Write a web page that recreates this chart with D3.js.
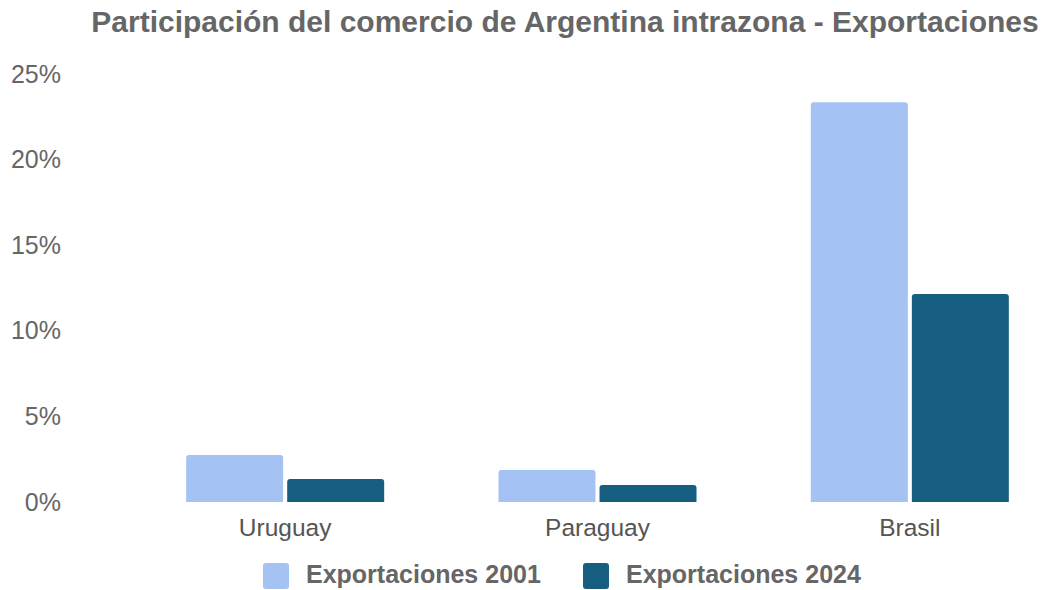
<!DOCTYPE html>
<html lang="es">
<head>
<meta charset="UTF-8">
<script src="https://cdn.jsdelivr.net/npm/d3@7"></script>
<style>
  body { margin: 0; background: #fff; }
  svg { font-family: "Liberation Sans", Arial, sans-serif; }
</style>
</head>
<body>
<div id="chart"></div>
<script>
const categories = ["Uruguay", "Paraguay", "Brasil"];
const series = ["Exportaciones 2001", "Exportaciones 2024"];
const exp2001 = [2.75, 1.87, 23.35];
const exp2024 = [1.35, 1.0, 12.15];
const yTicks = [0, 5, 10, 15, 20, 25];
const colors = ["#a4c2f4", "#165f83"];

const width = 1043, height = 590;
const svg = d3.select("#chart").append("svg")
  .attr("width", width).attr("height", height);

const x0 = d3.scaleBand().domain(categories).range([129, 1066])
  .paddingInner(0.366).paddingOuter(0.183);
const x1 = d3.scaleBand().domain(series).range([0, x0.bandwidth()]).paddingInner(0.04);
const y = d3.scaleLinear().domain([0, 25]).range([502, 74]);

// title
svg.append("text")
  .attr("x", 565).attr("y", 32)
  .attr("text-anchor", "middle")
  .attr("font-size", 30).attr("font-weight", "bold")
  .attr("fill", "#666")
  .text("Participación del comercio de Argentina intrazona - Exportaciones");

// y axis
const yAxis = svg.append("g")
  .attr("transform", "translate(61,0)")
  .call(d3.axisLeft(y).tickValues(yTicks).tickSize(0).tickPadding(0).tickFormat(d => d + "%"));
yAxis.select(".domain").remove();
yAxis.selectAll("text").attr("font-size", 25).attr("fill", "#666")
  .attr("font-family", "Liberation Sans, Arial, sans-serif");

// x axis labels
const xAxis = svg.append("g")
  .attr("transform", "translate(0,502)")
  .call(d3.axisBottom(x0).tickSize(0).tickPadding(0));
xAxis.select(".domain").remove();
xAxis.selectAll("text").attr("dy", null).attr("y", 34)
  .attr("font-size", 24.5).attr("fill", "#555")
  .attr("font-family", "Liberation Sans, Arial, sans-serif");

// bars with rounded tops
function barPath(x, yTop, w, yBase, r) {
  r = Math.min(r, (yBase - yTop), w / 2);
  return `M${x},${yBase}V${yTop + r}Q${x},${yTop} ${x + r},${yTop}H${x + w - r}Q${x + w},${yTop} ${x + w},${yTop + r}V${yBase}Z`;
}
const rows = categories.map((c, i) => ({ cat: c, vals: [exp2001[i], exp2024[i]] }));
const groups = svg.selectAll(".grp").data(rows).join("g")
  .attr("transform", d => `translate(${x0(d.cat)},0)`);
groups.selectAll("path").data(d => d.vals.map((v, j) => ({ s: series[j], v, j })))
  .join("path")
  .attr("d", d => barPath(x1(d.s), y(d.v), x1.bandwidth(), y(0), 3))
  .attr("fill", d => colors[d.j]);

// legend
const legendX = [263, 583];
const legend = svg.selectAll(".lg").data(series).join("g")
  .attr("transform", (d, i) => `translate(${legendX[i]},563)`);
legend.append("rect").attr("width", 26).attr("height", 26).attr("rx", 3)
  .attr("fill", (d, i) => colors[i]);
legend.append("text").attr("x", 43).attr("y", 20)
  .attr("font-size", 25).attr("font-weight", "bold").attr("fill", "#666")
  .text(d => d);
</script>
</body>
</html>
